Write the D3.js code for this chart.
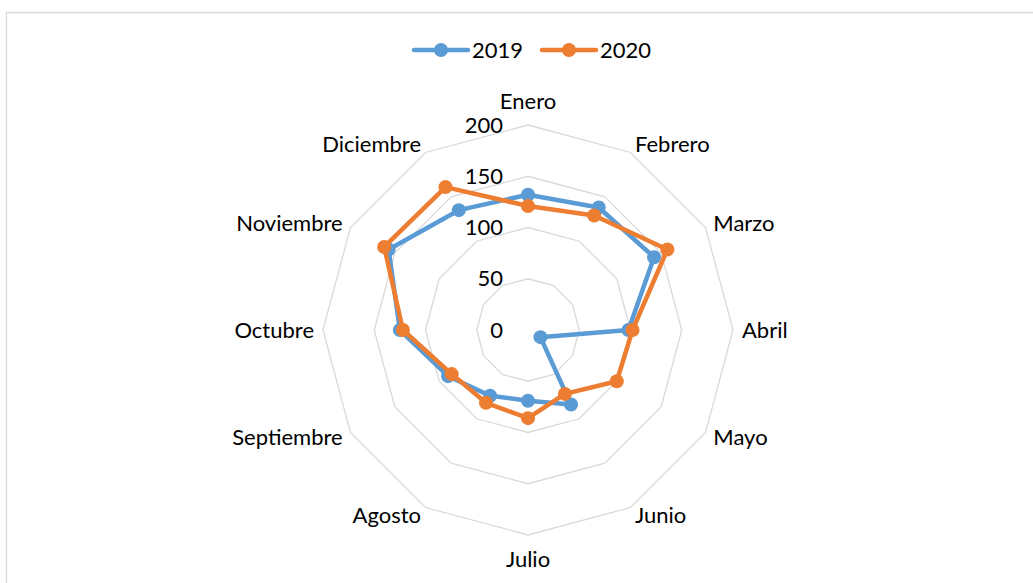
<!DOCTYPE html>
<html>
<head>
<meta charset="utf-8">
<script src="https://cdn.jsdelivr.net/npm/d3@7"></script>
<style>
  body { margin: 0; background: #fff; }
  svg { display: block; font-family: Lato, "Open Sans", sans-serif; }
  .grid { fill: none; stroke: #d9d9d9; stroke-width: 1.3; }
  .lbl { font-size: 22px; fill: #000; }
</style>
</head>
<body>
<svg id="chart" width="1033" height="583"></svg>
<script>
// months and values
const months = ["Enero", "Febrero", "Marzo", "Abril", "Mayo", "Junio",
                "Julio", "Agosto", "Septiembre", "Octubre", "Noviembre", "Diciembre"];
const values2019 = [132, 138, 142, 98, 14, 84, 69, 74, 90, 125, 157, 135];
const values2020 = [121, 129, 157, 102, 100, 72, 86, 82, 86, 122, 162, 161];
const ticks = [0, 50, 100, 150, 200];

const seriesNames = ["2019", "2020"];
const seriesColors = ["#5b9bd5", "#ed7d31"];
const series = [values2019, values2020];

const svg = d3.select("#chart");
const cx = 528, cy = 330;

// frame
svg.append("path")
    .attr("d", "M6.5,600 V12.5 H1040")
    .attr("fill", "none")
    .attr("stroke", "#d9d9d9")
    .attr("stroke-width", 1.3);

const r = d3.scaleLinear().domain([0, 200]).range([0, 205]);
const angle = d3.scaleLinear().domain([0, months.length]).range([0, 2 * Math.PI]);

const g = svg.append("g").attr("transform", `translate(${cx},${cy})`);

function pt(i, v) {
    const a = angle(i);
    return [r(v) * Math.sin(a), -r(v) * Math.cos(a)];
}

// grid rings (0 ring collapses to a point)
g.selectAll(".grid")
    .data(ticks.filter(t => t > 0))
    .enter().append("path")
    .attr("class", "grid")
    .attr("d", t => d3.line()(months.map((m, i) => pt(i, t))) + "Z");

// tick labels
g.selectAll(".tick")
    .data(ticks)
    .enter().append("text")
    .attr("class", "lbl")
    .attr("x", -25)
    .attr("y", t => -r(t))
    .attr("dy", "0.35em")
    .attr("text-anchor", "end")
    .text(t => t);

// month labels
g.selectAll(".month")
    .data(months)
    .enter().append("text")
    .attr("class", "lbl")
    .each(function(m, i) {
        const a = angle(i);
        const s = Math.sin(a), c = Math.cos(a);
        let anchor = "middle";
        if (s > 0.1) anchor = "start";
        else if (s < -0.1) anchor = "end";
        const x = (r(200) + 9) * s;
        const y = Math.abs(s) < 0.1 ? -(r(200) + 24) * c : -(r(200) + 9) * c;
        d3.select(this)
            .attr("x", x)
            .attr("y", y)
            .attr("dy", "0.35em")
            .attr("text-anchor", anchor)
            .text(m);
    });

// series
series.forEach((vals, k) => {
    const pts = vals.map((v, i) => pt(i, v));
    g.append("path")
        .attr("d", d3.line()(pts) + "Z")
        .attr("fill", "none")
        .attr("stroke", seriesColors[k])
        .attr("stroke-width", 4.5)
        .attr("stroke-linejoin", "round");
    g.selectAll(".m" + k)
        .data(pts)
        .enter().append("circle")
        .attr("cx", d => d[0])
        .attr("cy", d => d[1])
        .attr("r", 7)
        .attr("fill", seriesColors[k]);
});

// legend
const legend = svg.append("g").attr("transform", "translate(414,50)");
seriesNames.forEach((name, k) => {
    const lg = legend.append("g").attr("transform", `translate(${k * 128},0)`);
    lg.append("line")
        .attr("x1", 0).attr("x2", 54)
        .attr("stroke", seriesColors[k])
        .attr("stroke-width", 4.5)
        .attr("stroke-linecap", "round");
    lg.append("circle").attr("cx", 27).attr("r", 7).attr("fill", seriesColors[k]);
    lg.append("text")
        .attr("class", "lbl")
        .attr("x", 58)
        .attr("dy", "0.35em")
        .text(name);
});
</script>
</body>
</html>
